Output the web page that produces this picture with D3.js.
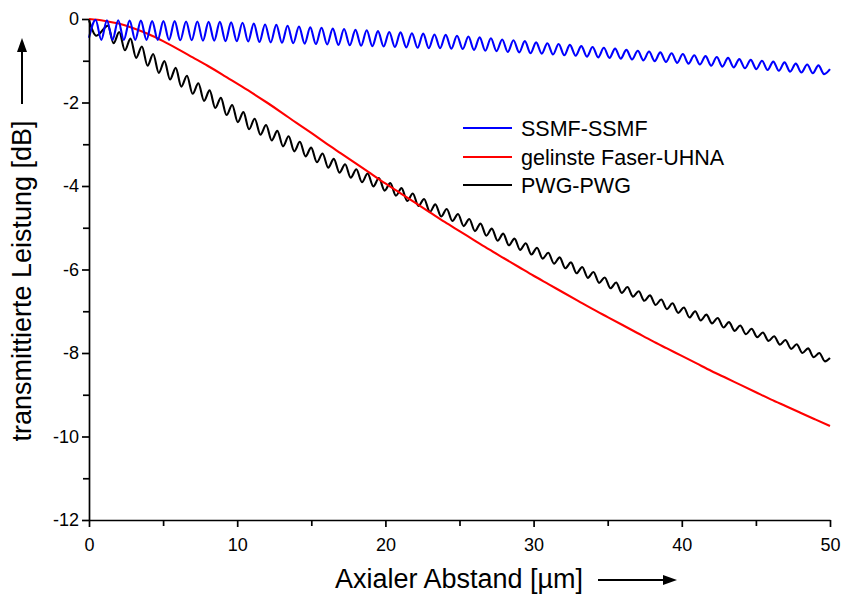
<!DOCTYPE html>
<html><head><meta charset="utf-8">
<script src="https://cdn.jsdelivr.net/npm/d3@7"></script>
<style>
body{margin:0;background:#fff}
svg{display:block}
text{font-family:Arial,"Liberation Sans",sans-serif;fill:#000}
</style>
</head><body>
<svg id="c" width="845" height="599"></svg>
<script>
// ---------- data ----------
const xTicks = [0, 10, 20, 30, 40, 50];
const xMinorTicks = [5, 15, 25, 35, 45];
const yTicks = [0, -2, -4, -6, -8, -10, -12];
const yMinorTicks = [-1, -3, -5, -7, -9, -11];
const seriesNames = ["SSMF-SSMF", "gelinste Faser-UHNA", "PWG-PWG"];
const seriesColors = ["#0000ff", "#ff0000", "#000000"];

// SSMF-SSMF: extrema of the interference ripple [µm, dB]
const ssmf = [[0,-0.45],[0.45,-0.02],[0.83,-0.50],[1.21,-0.03],[1.59,-0.50],[1.97,-0.03],[2.35,-0.50],[2.74,-0.04],[3.12,-0.50],[3.50,-0.04],[3.88,-0.50],[4.26,-0.05],[4.64,-0.50],[5.02,-0.05],[5.40,-0.50],[5.78,-0.05],[6.16,-0.51],[6.55,-0.06],[6.93,-0.51],[7.31,-0.06],[7.69,-0.52],[8.07,-0.07],[8.45,-0.52],[8.83,-0.07],[9.21,-0.53],[9.59,-0.08],[9.97,-0.53],[10.36,-0.09],[10.74,-0.54],[11.12,-0.11],[11.50,-0.55],[11.88,-0.13],[12.26,-0.56],[12.64,-0.14],[13.02,-0.57],[13.40,-0.16],[13.78,-0.58],[14.17,-0.18],[14.55,-0.59],[14.93,-0.20],[15.31,-0.60],[15.69,-0.21],[16.07,-0.61],[16.45,-0.23],[16.83,-0.62],[17.21,-0.24],[17.60,-0.63],[17.98,-0.26],[18.36,-0.64],[18.74,-0.27],[19.12,-0.65],[19.50,-0.29],[19.88,-0.66],[20.26,-0.31],[20.64,-0.67],[21.02,-0.32],[21.41,-0.68],[21.79,-0.34],[22.17,-0.69],[22.55,-0.35],[22.93,-0.70],[23.31,-0.37],[23.69,-0.70],[24.07,-0.38],[24.45,-0.71],[24.83,-0.40],[25.22,-0.72],[25.60,-0.42],[25.98,-0.74],[26.36,-0.44],[26.74,-0.76],[27.12,-0.46],[27.50,-0.77],[27.88,-0.49],[28.26,-0.79],[28.64,-0.51],[29.03,-0.80],[29.41,-0.53],[29.79,-0.82],[30.17,-0.56],[30.55,-0.83],[30.93,-0.58],[31.31,-0.85],[31.69,-0.60],[32.07,-0.87],[32.45,-0.62],[32.84,-0.88],[33.22,-0.65],[33.60,-0.90],[33.98,-0.67],[34.36,-0.92],[34.74,-0.69],[35.12,-0.93],[35.50,-0.71],[35.88,-0.95],[36.26,-0.74],[36.64,-0.97],[37.03,-0.76],[37.41,-0.99],[37.79,-0.78],[38.17,-1.01],[38.55,-0.80],[38.93,-1.03],[39.31,-0.82],[39.69,-1.05],[40.07,-0.84],[40.45,-1.07],[40.84,-0.87],[41.22,-1.09],[41.60,-0.89],[41.98,-1.12],[42.36,-0.91],[42.74,-1.14],[43.12,-0.93],[43.50,-1.16],[43.88,-0.96],[44.26,-1.18],[44.65,-0.98],[45.03,-1.20],[45.41,-1.00],[45.79,-1.22],[46.17,-1.02],[46.55,-1.24],[46.93,-1.04],[47.31,-1.26],[47.69,-1.07],[48.07,-1.28],[48.46,-1.09],[48.84,-1.30],[49.22,-1.11],[49.60,-1.32],[50,-1.20]];

// gelinste Faser-UHNA [µm, dB]
const lensed = [[0,0.00],[1,-0.04],[2,-0.11],[3,-0.22],[4,-0.36],[5,-0.53],[6,-0.72],[7,-0.92],[8,-1.12],[9,-1.33],[10,-1.55],[11,-1.77],[12,-2.00],[13,-2.24],[14,-2.49],[15,-2.73],[16,-2.98],[17,-3.22],[18,-3.46],[19,-3.70],[20,-3.94],[21,-4.17],[22,-4.40],[23,-4.63],[24,-4.86],[25,-5.08],[26,-5.30],[27,-5.52],[28,-5.73],[29,-5.94],[30,-6.15],[31,-6.35],[32,-6.55],[33,-6.75],[34,-6.95],[35,-7.14],[36,-7.33],[37,-7.52],[38,-7.71],[39,-7.89],[40,-8.07],[41,-8.25],[42,-8.43],[43,-8.60],[44,-8.77],[45,-8.94],[46,-9.11],[47,-9.27],[48,-9.43],[49,-9.59],[50,-9.75]];

// PWG-PWG: extrema of the ripple [µm, dB]
const pwg = [[0,-0.03],[0.5,-0.40],[1.28,-0.16],[1.66,-0.58],[2.04,-0.31],[2.42,-0.75],[2.80,-0.47],[3.18,-0.93],[3.57,-0.66],[3.95,-1.12],[4.33,-0.84],[4.71,-1.29],[5.09,-1.01],[5.47,-1.45],[5.85,-1.17],[6.23,-1.62],[6.61,-1.36],[6.99,-1.79],[7.38,-1.54],[7.76,-1.96],[8.14,-1.71],[8.52,-2.13],[8.90,-1.89],[9.28,-2.30],[9.66,-2.06],[10.04,-2.47],[10.42,-2.23],[10.80,-2.64],[11.18,-2.39],[11.57,-2.77],[11.95,-2.54],[12.33,-2.91],[12.71,-2.68],[13.09,-3.05],[13.47,-2.81],[13.85,-3.17],[14.23,-2.94],[14.61,-3.29],[14.99,-3.08],[15.38,-3.43],[15.76,-3.22],[16.14,-3.56],[16.52,-3.35],[16.90,-3.68],[17.28,-3.48],[17.66,-3.80],[18.04,-3.60],[18.42,-3.91],[18.80,-3.70],[19.19,-4.01],[19.56,-3.81],[19.95,-4.11],[20.33,-3.93],[20.71,-4.23],[21.09,-4.05],[21.47,-4.36],[21.85,-4.18],[22.23,-4.48],[22.61,-4.31],[23.00,-4.62],[23.37,-4.44],[23.76,-4.73],[24.14,-4.55],[24.52,-4.84],[24.90,-4.67],[25.28,-4.96],[25.66,-4.79],[26.04,-5.08],[26.42,-4.90],[26.81,-5.19],[27.18,-5.02],[27.57,-5.31],[27.95,-5.14],[28.33,-5.42],[28.71,-5.26],[29.09,-5.53],[29.47,-5.37],[29.85,-5.64],[30.23,-5.48],[30.61,-5.74],[30.99,-5.60],[31.38,-5.86],[31.76,-5.71],[32.14,-5.97],[32.52,-5.83],[32.90,-6.09],[33.28,-5.94],[33.66,-6.20],[34.04,-6.06],[34.42,-6.32],[34.80,-6.19],[35.19,-6.45],[35.57,-6.31],[35.95,-6.56],[36.33,-6.42],[36.71,-6.65],[37.09,-6.52],[37.47,-6.75],[37.85,-6.62],[38.23,-6.85],[38.61,-6.72],[39.00,-6.95],[39.37,-6.81],[39.76,-7.04],[40.14,-6.91],[40.52,-7.15],[40.90,-7.00],[41.28,-7.22],[41.66,-7.08],[42.04,-7.29],[42.42,-7.16],[42.81,-7.39],[43.18,-7.26],[43.57,-7.47],[43.94,-7.34],[44.33,-7.55],[44.71,-7.42],[45.09,-7.62],[45.47,-7.51],[45.85,-7.71],[46.23,-7.60],[46.62,-7.80],[46.99,-7.69],[47.38,-7.90],[47.75,-7.79],[48.14,-8.00],[48.52,-7.89],[48.90,-8.10],[49.28,-8.00],[49.66,-8.20],[50,-8.12]];

const xLabel = "Axialer Abstand [µm]";
const yLabel = "transmittierte Leistung [dB]";

// ---------- chart ----------
const svg = d3.select("#c");
const x = d3.scaleLinear().domain([0, 50]).range([89, 830]);
const y = d3.scaleLinear().domain([-12, 0]).range([520, 19]);

const line = d3.line().x(d => x(d[0])).y(d => y(d[1])).curve(d3.curveMonotoneX);
const series = [ssmf, lensed, pwg];

[2, 1, 0].forEach(i => {
  svg.append("path").datum(series[i])
    .attr("d", line).attr("fill", "none")
    .attr("stroke", seriesColors[i]).attr("stroke-width", 2.1)
    .attr("stroke-linejoin", "round");
});

// axes
const gx = svg.append("g").attr("transform", `translate(0,${y(-12)})`)
  .call(d3.axisBottom(x).tickValues(xTicks).tickSize(7).tickSizeOuter(0).tickFormat(d => String(d)));
const gxm = svg.append("g").attr("transform", `translate(0,${y(-12)})`)
  .call(d3.axisBottom(x).tickValues(xMinorTicks).tickSize(6).tickSizeOuter(0).tickFormat(""));
gxm.select(".domain").remove();
const gy = svg.append("g").attr("transform", `translate(${x(0)},0)`)
  .call(d3.axisLeft(y).tickValues(yTicks).tickSize(7).tickSizeOuter(0).tickFormat(d => String(d)));
const gym = svg.append("g").attr("transform", `translate(${x(0)},0)`)
  .call(d3.axisLeft(y).tickValues(yMinorTicks).tickSize(6).tickSizeOuter(0).tickFormat(""));
gym.select(".domain").remove();

svg.selectAll(".domain, .tick line").attr("stroke", "#000").attr("stroke-width", 1.7);
gx.selectAll("text").attr("font-size", 18).attr("font-family", "Arial, 'Liberation Sans', sans-serif")
  .attr("y", 18).attr("dy", "0.71em");
gy.selectAll("text").attr("font-size", 18).attr("font-family", "Arial, 'Liberation Sans', sans-serif").attr("x", -10);

// axis titles with arrows
svg.append("text").attr("x", 459).attr("y", 588).attr("text-anchor", "middle")
  .attr("font-size", 27).text(xLabel);
svg.append("line").attr("x1", 598).attr("x2", 666).attr("y1", 580).attr("y2", 580)
  .attr("stroke", "#000").attr("stroke-width", 2);
svg.append("path").attr("d", "M677,580 L663,575 L663,585 Z").attr("fill", "#000");

svg.append("text").attr("transform", "translate(31,281) rotate(-90)").attr("text-anchor", "middle")
  .attr("font-size", 27).text(yLabel);
svg.append("line").attr("x1", 22).attr("x2", 22).attr("y1", 104).attr("y2", 48)
  .attr("stroke", "#000").attr("stroke-width", 2);
svg.append("path").attr("d", "M22,38 L17,52 L27,52 Z").attr("fill", "#000");

// legend
const legY = [128, 157, 185];
seriesNames.forEach((n, i) => {
  svg.append("line").attr("x1", 463).attr("x2", 512).attr("y1", legY[i]).attr("y2", legY[i])
    .attr("stroke", seriesColors[i]).attr("stroke-width", 2);
  svg.append("text").attr("x", 521).attr("y", legY[i]).attr("dy", "0.36em")
    .attr("font-size", 21.5).text(n);
});
</script>
</body></html>
